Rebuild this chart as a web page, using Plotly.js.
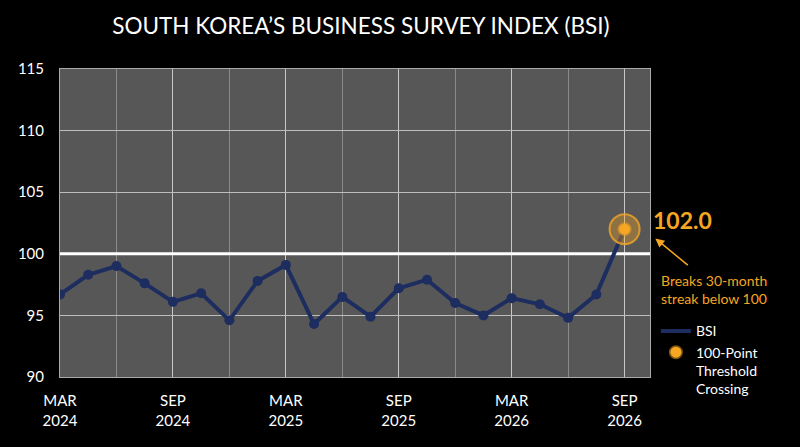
<!DOCTYPE html>
<html>
<head>
<meta charset="utf-8">
<script src="https://cdn.plot.ly/plotly-3.0.1.min.js"></script>
<style>
  html, body { margin: 0; padding: 0; background: #000; }
  #chart { width: 800px; height: 447px; }
</style>
</head>
<body>
<div id="chart"></div>
<script>
"use strict";

// survey readings, Mar 2024 to Sep 2026 (21 releases)
var periodIndex = [0, 1, 2, 3, 4, 5, 6, 7, 8, 9, 10, 11, 12, 13, 14, 15, 16, 17, 18, 19, 20];
var bsiValues = [96.7, 98.3, 99.0, 97.6, 96.1, 96.8, 94.6, 97.8, 99.1, 94.3, 96.5,
                 94.9, 97.2, 97.9, 96.0, 95.0, 96.4, 95.9, 94.8, 96.7, 102.0];
var tickPositions = [0, 4, 8, 12, 16, 20];
var tickLabels = ["MAR<br>2024", "SEP<br>2024", "MAR<br>2025", "SEP<br>2025", "MAR<br>2026", "SEP<br>2026"];
var minorPositions = [2, 6, 10, 14, 18];
var crossingIndex = [20];
var crossingValue = [102.0];
var thresholdX = [0, 20.9];
var thresholdY = [100, 100];

var navy = "#1d2d5f";
var orange = "#f5a623";

var data = [
    {
        x: thresholdX,
        y: thresholdY,
        type: "scatter",
        mode: "lines",
        line: {color: "#ffffff", width: 3},
        hoverinfo: "skip",
        showlegend: false
    },
    {
        x: periodIndex,
        y: bsiValues,
        name: "BSI",
        type: "scatter",
        mode: "lines+markers",
        line: {color: navy, width: 4},
        marker: {color: navy, size: 10},
        showlegend: false
    },
    {
        // legend entry only: line without the dot
        x: [null],
        y: [null],
        name: "BSI",
        type: "scatter",
        mode: "lines",
        line: {color: navy, width: 4}
    },
    {
        x: crossingIndex,
        y: crossingValue,
        type: "scatter",
        mode: "markers",
        marker: {color: "rgba(245,166,35,0.35)", size: 30, line: {color: "rgba(245,166,35,0.8)", width: 2}},
        hoverinfo: "skip",
        showlegend: false
    },
    {
        x: crossingIndex,
        y: crossingValue,
        name: "100-Point<br>Threshold<br>Crossing",
        type: "scatter",
        mode: "markers",
        marker: {color: orange, size: 11, line: {color: "rgba(245,166,35,0.5)", width: 3}}
    }
];

var layout = {
    width: 800,
    height: 447,
    paper_bgcolor: "#000000",
    plot_bgcolor: "#575757",
    margin: {l: 60, r: 150, t: 69, b: 70},
    font: {family: "Lato, 'Open Sans', sans-serif", color: "#ffffff", size: 14},
    title: {
        text: "SOUTH KOREA’S BUSINESS SURVEY INDEX (BSI)",
        font: {family: "Lato, 'Open Sans', sans-serif", size: 22.5, color: "#ffffff"},
        xref: "paper",
        x: 0.51,
        xanchor: "center",
        y: 0.96
    },
    xaxis: {
        range: [0, 20.9],
        tickmode: "array",
        tickvals: tickPositions,
        ticktext: tickLabels,
        showgrid: true,
        gridcolor: "#c8c8c8",
        gridwidth: 1,
        minor: {tickmode: "array", tickvals: minorPositions, showgrid: true, gridcolor: "#8a8a8a", gridwidth: 1},
        zeroline: false,
        showline: true,
        linecolor: "#aaaaaa",
        mirror: true,
        tickfont: {size: 15, color: "#ffffff"},
        ticklabelstandoff: 10,
        ticks: ""
    },
    yaxis: {
        range: [90, 115],
        tickvals: [90, 95, 100, 105, 110, 115],
        showgrid: true,
        gridcolor: "#bdbdbd",
        gridwidth: 1,
        zeroline: false,
        showline: true,
        linecolor: "#aaaaaa",
        mirror: true,
        tickfont: {size: 15, color: "#ffffff"},
        ticklabelstandoff: 12
    },
    legend: {
        x: 1.01,
        y: 0.2,
        xanchor: "left",
        yanchor: "top",
        valign: "top",
        bgcolor: "rgba(0,0,0,0)",
        font: {size: 14, color: "#ffffff"},
        itemwidth: 30,
        tracegroupgap: 4
    },
    annotations: [
        {
            xref: "paper", yref: "paper",
            x: 1.002, y: 0.51,
            xanchor: "left", yanchor: "middle",
            text: "<b>102.0</b>",
            showarrow: false,
            font: {size: 23, color: orange}
        },
        {
            xref: "paper", yref: "paper",
            x: 1.009, y: 0.45,
            text: "",
            showarrow: true,
            arrowhead: 2,
            arrowsize: 1.2,
            arrowwidth: 1.5,
            arrowcolor: orange,
            ax: 34,
            ay: 28
        },
        {
            xref: "paper", yref: "paper",
            x: 1.0155, y: 0.285,
            xanchor: "left", yanchor: "middle",
            text: "Breaks 30-month<br>streak below 100",
            showarrow: false,
            align: "left",
            font: {size: 14, color: orange}
        }
    ]
};

Plotly.newPlot("chart", data, layout, {displayModeBar: false});
</script>
</body>
</html>
